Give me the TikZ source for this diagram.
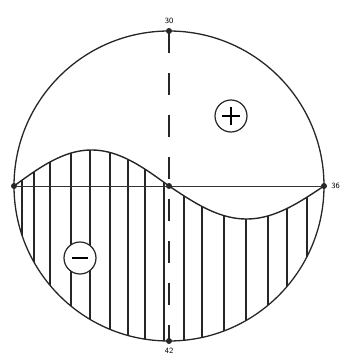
\documentclass[tikz,border=0pt]{standalone}
\usepackage{tikz}
\usetikzlibrary{calc, positioning}
\tikzset{
    rim/.style={line width=1.3pt, black!85},
    wave/.style={line width=1.4pt, black!85},
    hatch/.style={line width=1.1pt, black!85},
    axisline/.style={line width=0.6pt, black!80},
    axisdash/.style={line width=2pt, black!85, dash pattern=on 22pt off 20pt},
    dot/.style={circle, fill=black!85, inner sep=0pt, minimum size=6pt},
    sign/.style={circle, draw=black!85, line width=1.2pt, fill=white, minimum size=32pt, inner sep=0pt},
    degree/.style={font=\sffamily\footnotesize, inner sep=1pt}
}
\begin{document}
\begin{tikzpicture}[x=1pt, y=-1pt]
    \useasboundingbox (0,0) rectangle (345,364);
    \coordinate (O) at (169,186);

    % Schraffur unter der Welle
    \begin{scope}
        \clip (14,186)
            -- plot[domain=14:169, samples=50] (\x, {186-36*sin((\x-14)/155*180)})
            -- plot[domain=169:324, samples=50] (\x, {186+33*sin((\x-169)/155*180)})
            arc[start angle=0, end angle=180, radius=155];
        \foreach \x in {22,34,50,71,90,110,128,145,164,184,202,224,246,268,287,307}
            \draw[hatch] (\x,100) -- (\x,364);
    \end{scope}

    % Kreis und Achsen
    \draw[rim] (O) circle[radius=155];
    \node[dot] (top) at (169,31) {};
    \node[dot] (bot) at (169,341) {};
    \node[dot] (lft) at (14,186) {};
    \node[dot] (rgt) at (324,186) {};
    \node[dot] (mid) at (O) {};
    \draw[axisline] (lft) -- (rgt);
    \draw[axisdash] (top.center) -- (bot.center);

    % Welle
    \draw[wave] plot[domain=14:169, samples=50] (\x, {186-36*sin((\x-14)/155*180)})
        -- plot[domain=169:324, samples=50] (\x, {186+33*sin((\x-169)/155*180)});

    % Vorzeichen
    \node[sign] (plus) at (231,116) {};
    \draw[line width=1.3pt] ($(plus)+(-9,0)$) -- ($(plus)+(9,0)$)
        ($(plus)+(0,-9)$) -- ($(plus)+(0,9)$);
    \node[sign] (minus) at (80,258) {};
    \draw[line width=2.6pt] ($(minus)+(-8,0)$) -- ($(minus)+(8,0)$);

    % Gradzahlen
    \node[degree, above=3pt of top] {30};
    \node[degree, right=3pt of rgt] {36};
    \node[degree, below=3pt of bot] {42};
\end{tikzpicture}
\end{document}
